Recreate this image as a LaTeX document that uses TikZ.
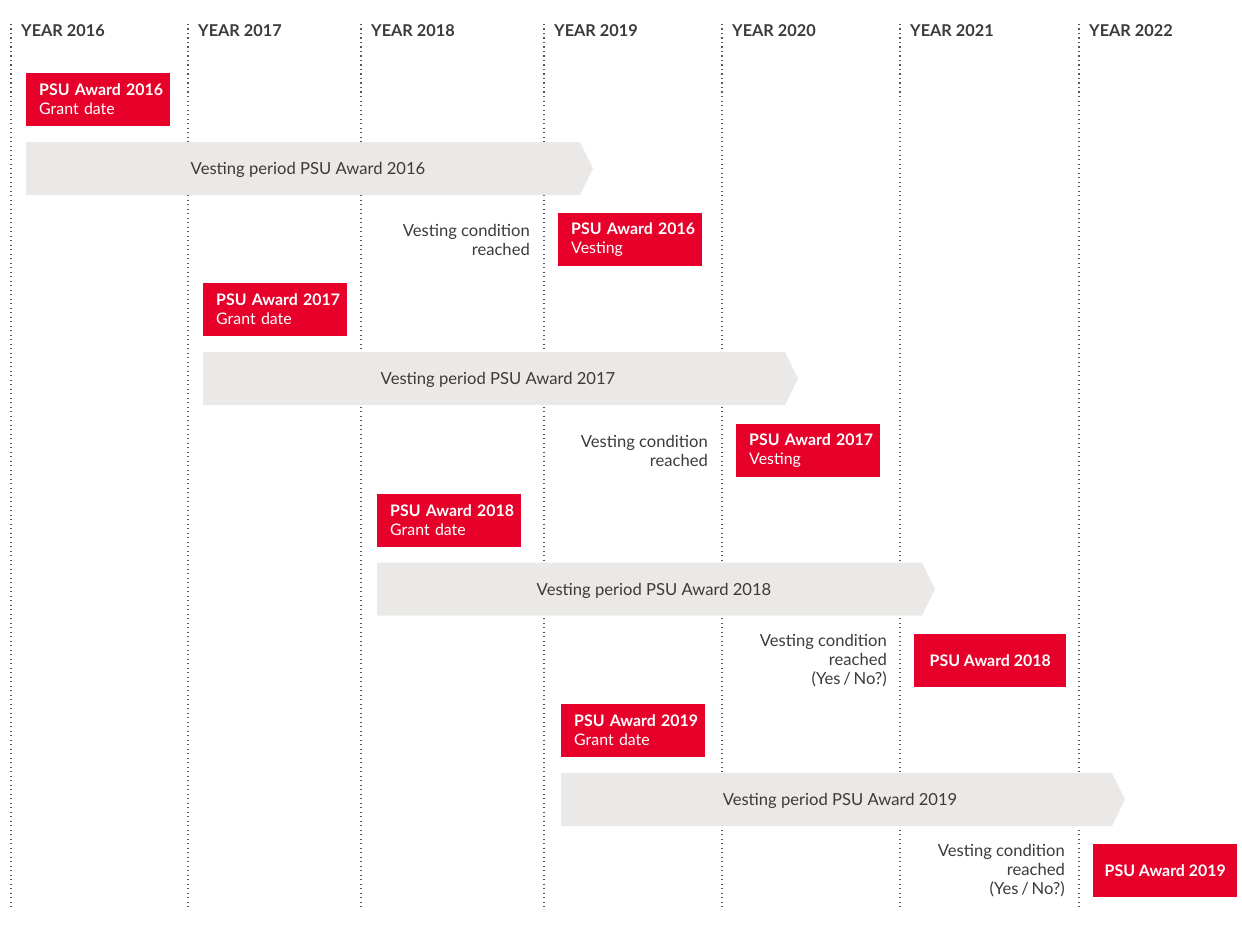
\documentclass[tikz,border=0pt]{standalone}
\usepackage{fontspec}
\setmainfont{Lato}
\definecolor{psured}{HTML}{E6002A}
\definecolor{bandgrey}{HTML}{EAE9E7}
\definecolor{inkgrey}{HTML}{3D3A38}
\definecolor{dotgrey}{HTML}{5A5856}

\newcommand{\awardtitle}[1]{\mbox{\textbf{PSU Award #1}}}

\tikzset{
  yearline/.style={draw=dotgrey, line width=1.3pt, dash pattern=on 1.3pt off 3.2pt},
  yearlabel/.style={font=\fontsize{16.3}{18}\selectfont\bfseries, text=inkgrey, inner sep=0pt, anchor=base west},
  redbox/.style={fill=psured, text=white, minimum height=53pt, inner ysep=0pt,
                 font=\fontsize{15.9}{19}\selectfont, anchor=north west},
  grantbox/.style={redbox, minimum width=144pt, text width=118pt, inner xsep=13pt, align=left},
  finalbox/.style={redbox, minimum width=152pt, inner xsep=0pt, align=center},
  band/.style={fill=bandgrey},
  bandtext/.style={font=\fontsize{16.6}{19}\selectfont, text=inkgrey, inner sep=0pt},
  condtext/.style={font=\fontsize{16.6}{19}\selectfont, text=inkgrey, inner sep=0pt, align=right, anchor=east}
}

\begin{document}
\begin{tikzpicture}[x=1pt, y=-1pt]
\useasboundingbox (0,0) rectangle (1242,934);

% year columns with dotted separators
\foreach \x/\yr in {11/2016, 188/2017, 361/2018, 544/2019, 722/2020, 900/2021, 1079/2022} {
  \draw[yearline] (\x,24) -- (\x,908);
  \node[yearlabel] (year\yr) at (\x+10,36.5) {YEAR \yr};
}

% ---- PSU Award 2016
\node[grantbox] (grant16) at (26,72.5) {\awardtitle{2016}\\Grant date};
\fill[band] (26,142) -- (580,142) -- (593,168.5) -- (580,195) -- (26,195) -- cycle;
\node[bandtext] (period16) at (308,170) {Vesting period PSU Award 2016};
\node[condtext] (cond16) at (530,239.5) {Vesting condition\\reached};
\node[grantbox] (vest16) at (558,212.5) {\awardtitle{2016}\\Vesting};

% ---- PSU Award 2017
\node[grantbox] (grant17) at (203,282.5) {\awardtitle{2017}\\Grant date};
\fill[band] (203,352) -- (785,352) -- (798,378.5) -- (785,405) -- (203,405) -- cycle;
\node[bandtext] (period17) at (498,380) {Vesting period PSU Award 2017};
\node[condtext] (cond17) at (708,450.5) {Vesting condition\\reached};
\node[grantbox] (vest17) at (736,423.5) {\awardtitle{2017}\\Vesting};

% ---- PSU Award 2018
\node[grantbox] (grant18) at (377,493.5) {\awardtitle{2018}\\Grant date};
\fill[band] (377,562.5) -- (922,562.5) -- (935,589) -- (922,615.5) -- (377,615.5) -- cycle;
\node[bandtext] (period18) at (654,590.5) {Vesting period PSU Award 2018};
\node[condtext] (cond18) at (887,660.5) {Vesting condition\\reached\\(Yes\,/\,No?)};
\node[finalbox] (vest18) at (914,633.5) {\awardtitle{2018}};

% ---- PSU Award 2019
\node[grantbox] (grant19) at (561,703.5) {\awardtitle{2019}\\Grant date};
\fill[band] (561,773) -- (1112,773) -- (1125,799.5) -- (1112,826) -- (561,826) -- cycle;
\node[bandtext] (period19) at (840,801) {Vesting period PSU Award 2019};
\node[condtext] (cond19) at (1065,870.5) {Vesting condition\\reached\\(Yes\,/\,No?)};
\node[finalbox, minimum width=144pt] (vest19) at (1093,843.5) {\awardtitle{2019}};
\end{tikzpicture}
\end{document}
